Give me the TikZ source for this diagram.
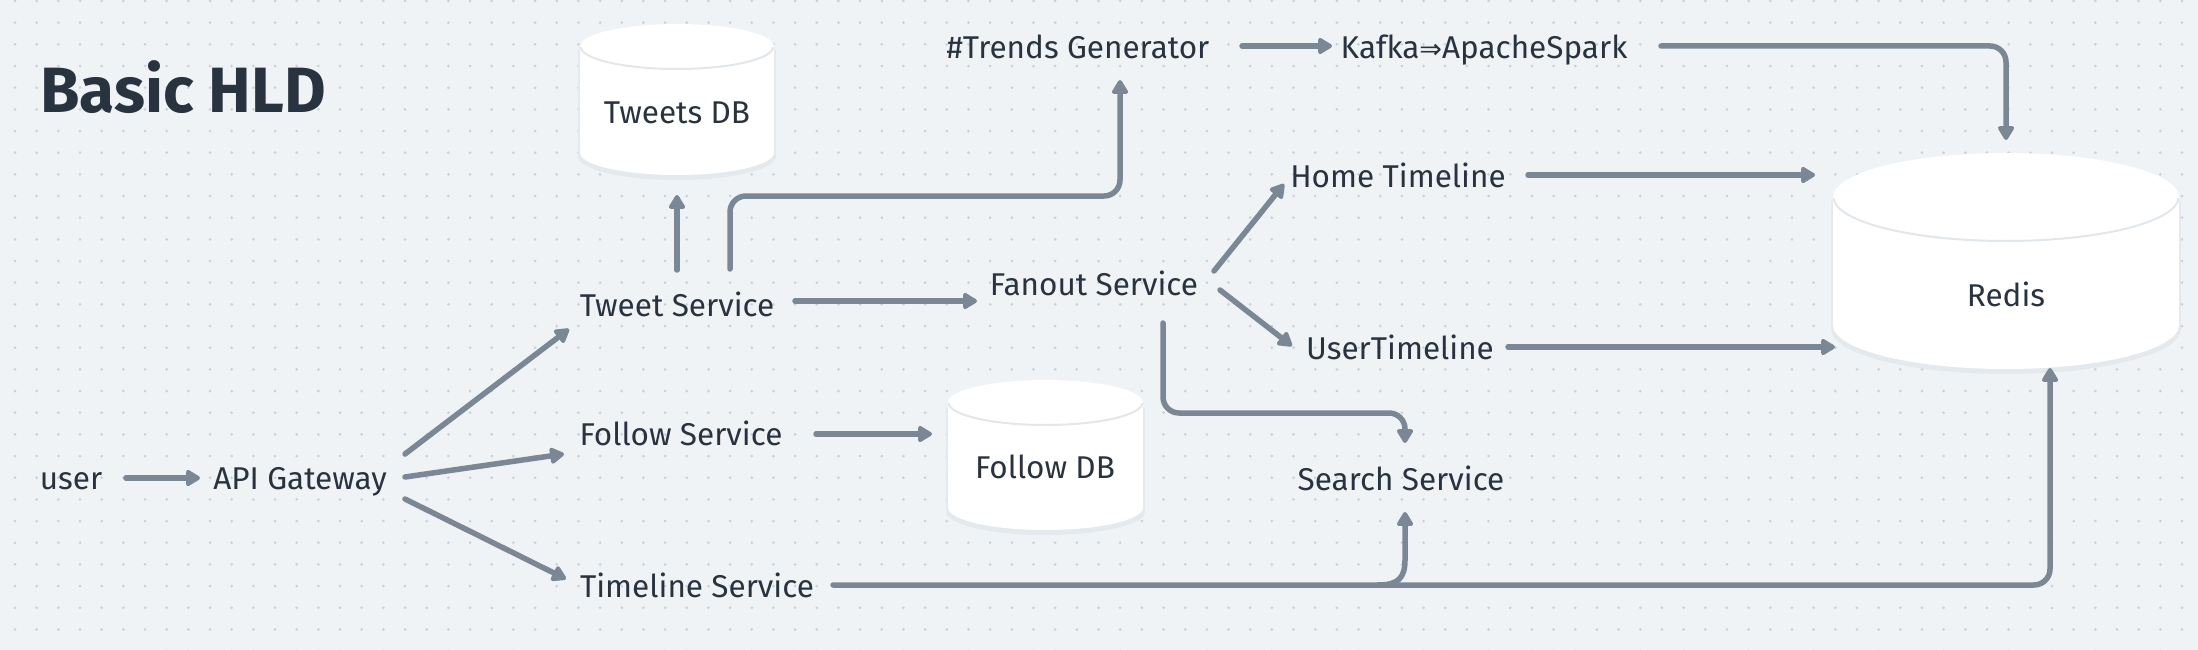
\documentclass[tikz,border=0pt]{standalone}
\usepackage{fontspec}
\setmainfont{Fira Sans}
\newfontfamily\symfont{DejaVu Sans}
\usetikzlibrary{arrows.meta}
\definecolor{bgc}{HTML}{EFF3F6}
\definecolor{dotc}{HTML}{C9D1DB}
\definecolor{linec}{HTML}{7C8795}
\definecolor{txtc}{HTML}{29333F}
\definecolor{edgec}{HTML}{E2E7EC}
\definecolor{shadc}{HTML}{E4E9EE}
\newcommand\dbcyl[5]{%
  \pgfmathsetmacro\cyx{(#1+#2)/2}%
  \pgfmathsetmacro\cyrx{(#2-#1)/2}%
  \pgfmathsetmacro\cyt{#3+#5}%
  \pgfmathsetmacro\cyb{#4-#5}%
  \pgfmathsetmacro\cye{#3+2*#5+3}%
  \fill[shadc] (\cyx,\cyb+4) ellipse[x radius=\cyrx pt+2pt, y radius=#5 pt+1pt];
  \fill[shadc] (#1-2,\cyt+4) rectangle (#2+2,\cyb+4);
  \fill[white] (\cyx,\cyb) ellipse[x radius=\cyrx pt, y radius=#5 pt];
  \fill[white] (#1,\cyt) rectangle (#2,\cyb);
  \fill[white] (\cyx,\cyt) ellipse[x radius=\cyrx pt, y radius=#5 pt];
  \begin{scope}
    \clip (#1-3,\cyt+1) rectangle (#2+3,\cye);
    \draw[edgec, line width=2pt] (\cyx,\cyt) ellipse[x radius=\cyrx pt-0.5pt, y radius=#5 pt];
  \end{scope}
}
\begin{document}
\begin{tikzpicture}[x=1pt,y=-1pt,
  lbl/.style={text=txtc, font=\fontsize{31.5}{36}\selectfont, inner sep=0pt, text height=21pt, text depth=0pt, anchor=center},
  arr/.style={draw=linec, line width=5.5pt, line cap=round, line join=round, rounded corners=16pt,
    -{Triangle[length=16pt,width=18pt,round]}}]
\useasboundingbox (0,0) rectangle (2198,650);
\fill[bgc] (0,0) rectangle (2198,650);
\foreach \i in {0,...,101}{\foreach \j in {0,...,30}{\fill[dotc] (15+21.67*\i,1+21.67*\j) circle (1.5pt);}}
% databases
\dbcyl{580}{774}{24}{175}{22.5}
\dbcyl{948}{1143}{380}{530}{22.5}
\dbcyl{1833}{2179}{153}{369}{44}
% title
\node[text=txtc, font=\fontsize{64}{72}\selectfont\bfseries, inner sep=0pt, text height=46pt, text depth=0pt, anchor=west] (title) at (40,90) {Basic HLD};
% nodes
\node[lbl] (tweetsdb) at (677,113) {Tweets DB};
\node[lbl] (followdb) at (1045,468) {Follow DB};
\node[lbl] (redis) at (2006,296) {Redis};
\node[lbl] (user) at (71,479) {user};
\node[lbl] (api) at (300,479) {API Gateway};
\node[lbl] (tweet) at (677,306) {Tweet Service};
\node[lbl] (follow) at (681,435) {Follow Service};
\node[lbl] (timeline) at (697,587) {Timeline Service};
\node[lbl] (fanout) at (1094,285) {Fanout Service};
\node[lbl] (home) at (1398,177) {Home Timeline};
\node[lbl] (usertl) at (1400,349) {UserTimeline};
\node[lbl] (search) at (1401,480) {Search Service};
\node[lbl] (trends) at (1078,48) {\#Trends Generator};
\node[lbl] (kafka) at (1484,48) {Kafka{\symfont\fontsize{27}{30}\selectfont ⇒}ApacheSpark};
% connectors
\coordinate (rtop) at (2006,140);
\coordinate (rbot) at (2050,368);
\coordinate (rleft1) at (1815,175);
\coordinate (rleft2) at (1835,347);
\coordinate (dbtop) at (677,195);
\coordinate (fdbl) at (932,434);
\coordinate (trbot) at (1120,80);
\coordinate (srtop) at (1405,443);
\coordinate (srbot) at (1405,512);
\draw[arr] (126,478) -- (200,478);
\draw[arr] (405,454) -- (569,329);
\draw[arr] (405,477) -- (564,454);
\draw[arr] (405,499) -- (566,579);
\draw[arr] (tweet.north |- 0,270) -- (dbtop);
\draw[arr] (730,269) -- (730,196) -- (1120,196) -- (trbot);
\draw[arr] (795,301) -- (977,301);
\draw[arr] (816,434) -- (fdbl);
\draw[arr] (1214,271) -- (1284,184);
\draw[arr] (1220,290) -- (1292,346);
\draw[arr] (1163,323) -- (1163,413) -- (1405,413) -- (srtop);
\draw[arr] (1528,175) -- (rleft1);
\draw[arr] (1508,347) -- (rleft2);
\draw[arr] (1242,46) -- (1332,46);
\draw[arr] (1661,46) -- (2006,46) -- (rtop);
\draw[arr] (833,585) -- (2050,585) -- (rbot);
\draw[arr, rounded corners=0pt] (1378,585) .. controls (1398,585) and (1405,578) .. (1405,560) -- (srbot);
\end{tikzpicture}
\end{document}
